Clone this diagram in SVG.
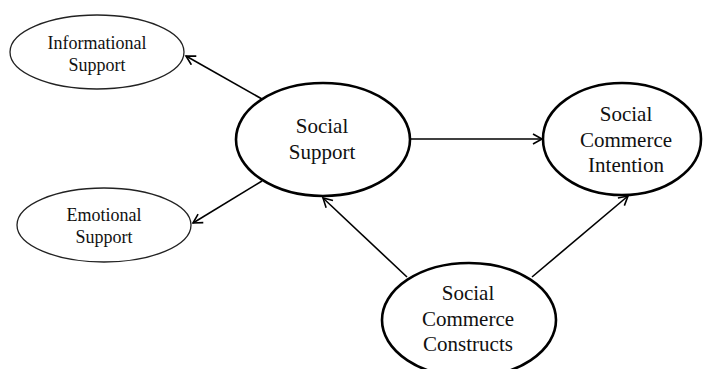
<svg xmlns="http://www.w3.org/2000/svg" width="705" height="369" viewBox="0 0 705 369">
<style>
.bg{fill:#fff}
.small{fill:#fff;stroke:#222;stroke-width:1.3}
.big{fill:#fff;stroke:#000;stroke-width:2.6}
.t{font-family:"Liberation Serif","Times New Roman",serif;fill:#111;text-anchor:middle}
.ts{font-size:18px}
.tb{font-size:21px}
.edge{stroke:#000;stroke-width:1.6;fill:none;marker-end:url(#arr)}
</style>
<defs>
<marker id="arr" markerUnits="userSpaceOnUse" markerWidth="14" markerHeight="14" refX="11" refY="6" orient="auto">
<path d="M2,1 L11,6 L2,11" fill="none" stroke="#000" stroke-width="1.6"/>
</marker>
</defs>
<rect class="bg" x="0" y="0" width="705" height="369"/>
<g id="edges">
<line class="edge" x1="262" y1="99" x2="186" y2="56"/>
<line class="edge" x1="262" y1="181" x2="193" y2="223"/>
<line class="edge" x1="410" y1="139" x2="542" y2="139"/>
<line class="edge" x1="407" y1="277" x2="323" y2="198"/>
<line class="edge" x1="532" y1="277" x2="628" y2="196"/>
</g>
<g id="informational">
<ellipse class="small" cx="97" cy="52" rx="87" ry="37"/>
<text class="t ts" x="97" y="49">Informational</text>
<text class="t ts" x="97" y="71">Support</text>
</g>
<g id="emotional">
<ellipse class="small" cx="104" cy="225" rx="87" ry="37"/>
<text class="t ts" x="104" y="221">Emotional</text>
<text class="t ts" x="104" y="243">Support</text>
</g>
<g id="social-support">
<ellipse class="big" cx="323" cy="139.5" rx="87" ry="56.5"/>
<text class="t tb" x="322" y="133">Social</text>
<text class="t tb" x="322" y="159">Support</text>
</g>
<g id="intention">
<ellipse class="big" cx="622" cy="139" rx="79" ry="56"/>
<text class="t tb" x="626" y="121">Social</text>
<text class="t tb" x="626" y="147">Commerce</text>
<text class="t tb" x="626" y="172">Intention</text>
</g>
<g id="constructs">
<ellipse class="big" cx="469" cy="320" rx="87" ry="57"/>
<text class="t tb" x="468" y="300">Social</text>
<text class="t tb" x="468" y="326">Commerce</text>
<text class="t tb" x="468" y="351">Constructs</text>
</g>
</svg>
